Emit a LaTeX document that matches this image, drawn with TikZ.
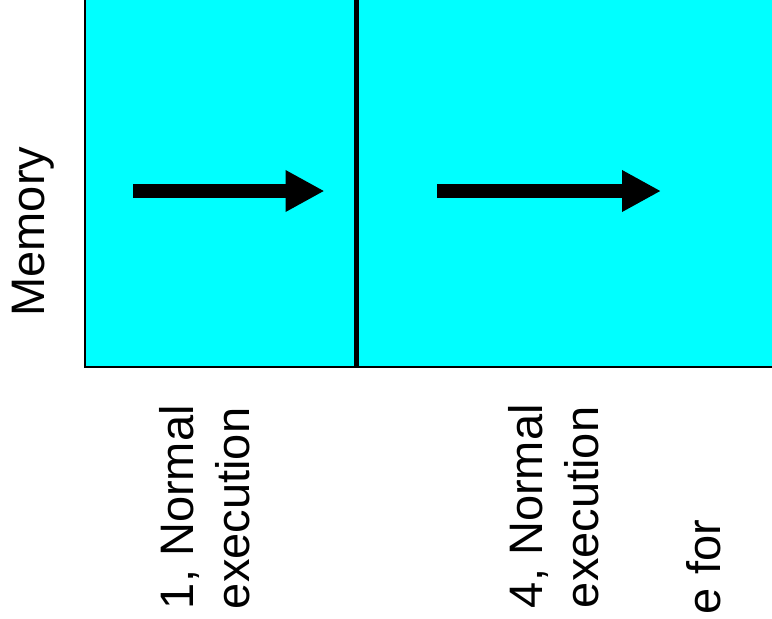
\documentclass[tikz,border=0pt]{standalone}
\usepackage{fontspec}
\setmainfont{Liberation Sans}
\usetikzlibrary{arrows.meta}
\definecolor{memcyan}{RGB}{0,255,255}
\tikzset{
  lbl/.style={rotate=90, inner sep=0pt, outer sep=0pt, font=\fontsize{47}{56}\selectfont, text=black},
  blockarrow/.style={line width=13.5pt, -{Triangle[length=39pt,width=39pt]}, draw=black},
  memborder/.style={draw=black, line width=2pt, fill=memcyan}
}
\begin{document}
\begin{tikzpicture}[x=1pt,y=-1pt]
\useasboundingbox (0,0) rectangle (772,619);
\fill[white] (0,0) rectangle (772,619);
% memory block
\draw[memborder] (85,-10) rectangle (790,367);
\draw[black, line width=4.5pt] (356.5,-10) -- (356.5,367);
% arrows
\coordinate (a1s) at (133,191);
\coordinate (a1e) at (324.5,191);
\coordinate (a2s) at (437,191);
\coordinate (a2e) at (661,191);
\draw[blockarrow] (a1s) -- (a1e);
\draw[blockarrow] (a2s) -- (a2e);
% labels
\node[lbl, anchor=base west] (mem) at (45,316.5) {Memory};
\node[lbl, anchor=base west] (l1a) at (193,609) {1, Normal};
\node[lbl, anchor=base west] (l1b) at (249,609) {execution};
\node[lbl, anchor=base west] (l4a) at (542,608) {4, Normal};
\node[lbl, anchor=base west] (l4b) at (598,608) {execution};
\node[lbl, anchor=base east] (l5) at (720,520) {e for};
\end{tikzpicture}
\end{document}
